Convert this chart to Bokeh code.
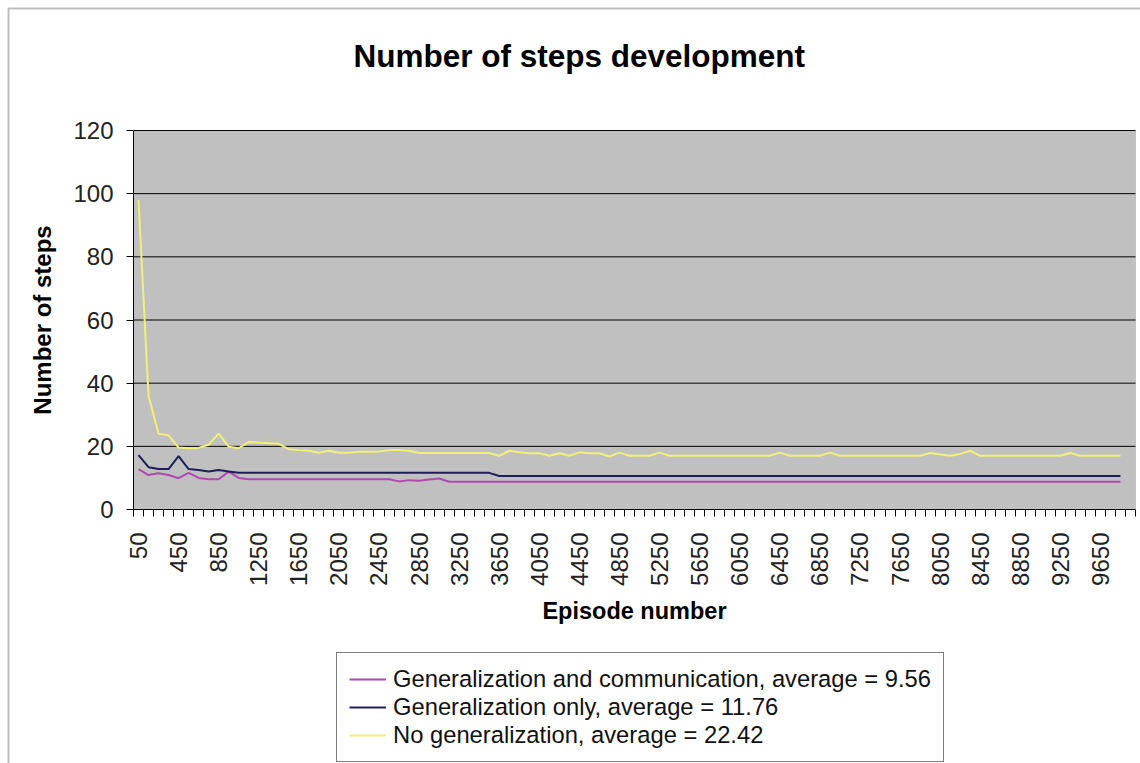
from math import pi

from bokeh.embed import file_html
from bokeh.models import (BoxAnnotation, FixedTicker, Label, Legend,
                          LegendItem, Range1d)
from bokeh.plotting import figure
from bokeh.resources import INLINE

# Episode buckets (centre of each block of 100 episodes)
episodes = [
    50, 150, 250, 350, 450, 550, 650, 750, 850, 950,
    1050, 1150, 1250, 1350, 1450, 1550, 1650, 1750, 1850, 1950,
    2050, 2150, 2250, 2350, 2450, 2550, 2650, 2750, 2850, 2950,
    3050, 3150, 3250, 3350, 3450, 3550, 3650, 3750, 3850, 3950,
    4050, 4150, 4250, 4350, 4450, 4550, 4650, 4750, 4850, 4950,
    5050, 5150, 5250, 5350, 5450, 5550, 5650, 5750, 5850, 5950,
    6050, 6150, 6250, 6350, 6450, 6550, 6650, 6750, 6850, 6950,
    7050, 7150, 7250, 7350, 7450, 7550, 7650, 7750, 7850, 7950,
    8050, 8150, 8250, 8350, 8450, 8550, 8650, 8750, 8850, 8950,
    9050, 9150, 9250, 9350, 9450, 9550, 9650, 9750, 9850,
]

gen_and_comm = [
    12.8, 10.9, 11.5, 10.9, 9.9, 11.6, 10.0, 9.6, 9.6, 12.0,
    10.0, 9.6, 9.6, 9.6, 9.6, 9.6, 9.6, 9.6, 9.6, 9.6,
    9.6, 9.6, 9.6, 9.6, 9.6, 9.6, 8.9, 9.3, 9.1, 9.5,
    9.8, 8.8, 8.8, 8.8, 8.8, 8.8, 8.8, 8.8, 8.8, 8.8,
    8.8, 8.8, 8.8, 8.8, 8.8, 8.8, 8.8, 8.8, 8.8, 8.8,
    8.8, 8.8, 8.8, 8.8, 8.8, 8.8, 8.8, 8.8, 8.8, 8.8,
    8.8, 8.8, 8.8, 8.8, 8.8, 8.8, 8.8, 8.8, 8.8, 8.8,
    8.8, 8.8, 8.8, 8.8, 8.8, 8.8, 8.8, 8.8, 8.8, 8.8,
    8.8, 8.8, 8.8, 8.8, 8.8, 8.8, 8.8, 8.8, 8.8, 8.8,
    8.8, 8.8, 8.8, 8.8, 8.8, 8.8, 8.8, 8.8, 8.8,
]

gen_only = [
    17.2, 13.4, 12.8, 12.8, 16.9, 12.8, 12.5, 12.0, 12.5, 12.0,
    11.6, 11.6, 11.6, 11.6, 11.6, 11.6, 11.6, 11.6, 11.6, 11.6,
    11.6, 11.6, 11.6, 11.6, 11.6, 11.6, 11.6, 11.6, 11.6, 11.6,
    11.6, 11.6, 11.6, 11.6, 11.6, 11.6, 10.6, 10.6, 10.6, 10.6,
    10.6, 10.6, 10.6, 10.6, 10.6, 10.6, 10.6, 10.6, 10.6, 10.6,
    10.6, 10.6, 10.6, 10.6, 10.6, 10.6, 10.6, 10.6, 10.6, 10.6,
    10.6, 10.6, 10.6, 10.6, 10.6, 10.6, 10.6, 10.6, 10.6, 10.6,
    10.6, 10.6, 10.6, 10.6, 10.6, 10.6, 10.6, 10.6, 10.6, 10.6,
    10.6, 10.6, 10.6, 10.6, 10.6, 10.6, 10.6, 10.6, 10.6, 10.6,
    10.6, 10.6, 10.6, 10.6, 10.6, 10.6, 10.6, 10.6, 10.6,
]

no_gen = [
    98.0, 36.0, 24.0, 23.5, 19.6, 19.4, 19.5, 20.5, 24.0, 19.9,
    19.4, 21.4, 21.2, 21.0, 20.8, 19.1, 18.8, 18.6, 18.0, 18.6,
    18.0, 18.0, 18.3, 18.3, 18.4, 18.8, 18.8, 18.6, 17.9, 17.9,
    17.9, 17.9, 17.9, 17.9, 17.9, 17.9, 17.0, 18.6, 18.1, 17.8,
    17.8, 17.0, 17.8, 17.0, 18.1, 17.8, 17.8, 16.8, 18.0, 17.0,
    17.0, 17.0, 18.0, 17.0, 17.0, 17.0, 17.0, 17.0, 17.0, 17.0,
    17.0, 17.0, 17.0, 17.0, 18.0, 17.0, 17.0, 17.0, 17.0, 18.0,
    17.0, 17.0, 17.0, 17.0, 17.0, 17.0, 17.0, 17.0, 17.0, 17.9,
    17.4, 17.0, 17.6, 18.6, 17.0, 17.0, 17.0, 17.0, 17.0, 17.0,
    17.0, 17.0, 17.0, 17.9, 17.0, 17.0, 17.0, 17.0, 17.0,
]

series_names = [
    "Generalization and communication, average = 9.56",
    "Generalization only, average = 11.76",
    "No generalization, average = 22.42",
]
series_colors = ["#B048B0", "#1E1E5A", "#F2F078"]

x_tick_labels = [
    "50", "450", "850", "1250", "1650", "2050", "2450", "2850", "3250",
    "3650", "4050", "4450", "4850", "5250", "5650", "6050", "6450", "6850",
    "7250", "7650", "8050", "8450", "8850", "9250", "9650",
]
x_boundaries = [
    0, 100, 200, 300, 400, 500, 600, 700, 800, 900, 1000, 1100, 1200, 1300,
    1400, 1500, 1600, 1700, 1800, 1900, 2000, 2100, 2200, 2300, 2400, 2500,
    2600, 2700, 2800, 2900, 3000, 3100, 3200, 3300, 3400, 3500, 3600, 3700,
    3800, 3900, 4000, 4100, 4200, 4300, 4400, 4500, 4600, 4700, 4800, 4900,
    5000, 5100, 5200, 5300, 5400, 5500, 5600, 5700, 5800, 5900, 6000, 6100,
    6200, 6300, 6400, 6500, 6600, 6700, 6800, 6900, 7000, 7100, 7200, 7300,
    7400, 7500, 7600, 7700, 7800, 7900, 8000, 8100, 8200, 8300, 8400, 8500,
    8600, 8700, 8800, 8900, 9000, 9100, 9200, 9300, 9400, 9500, 9600, 9700,
    9800, 9900, 10000,
]
y_ticks = [0, 20, 40, 60, 80, 100, 120]
x_min, x_max = 0, 10000
y_min, y_max = 0, 120

FONT = "Liberation Sans"
W, H = 1140, 763

# Plot area in page pixels: x 133..1135, y 130 (top) .. 509 (bottom)
PX_L, PX_R, PX_T, PX_B = 133, 1135, 130, 509
sx = (PX_R - PX_L) / (x_max - x_min)
sy = (PX_B - PX_T) / (y_max - y_min)

p = figure(
    width=W, height=H, output_backend="svg", toolbar_location=None,
    x_range=Range1d(x_min - PX_L / sx, x_max + (W - PX_R) / sx),
    y_range=Range1d(y_min - (H - PX_B) / sy, y_max + PX_T / sy),
    min_border=0, outline_line_color=None,
    background_fill_color="white", border_fill_color="white",
)
p.xgrid.visible = False
p.ygrid.visible = False

# grey plot area
p.add_layout(BoxAnnotation(left=x_min, right=x_max, bottom=y_min, top=y_max,
                           fill_color="#C0C0C0", fill_alpha=1.0,
                           line_color="#808080", line_width=1, level="underlay"))

# horizontal grid lines across the plot area
p.segment(x0=[x_min] * (len(y_ticks) - 1), x1=[x_max] * (len(y_ticks) - 1),
          y0=y_ticks[1:], y1=y_ticks[1:], line_color="black", line_width=1)

# x axis: tick marks on category boundaries, labels every fourth category
xa = p.xaxis[0]
xa.fixed_location = y_min
xa.bounds = (x_min, x_max)
xa.ticker = FixedTicker(ticks=[int(t) for t in x_tick_labels], minor_ticks=x_boundaries)
xa.major_label_overrides = {int(t): t for t in x_tick_labels}
xa.major_label_orientation = pi / 2
xa.major_tick_out = 0
xa.major_tick_in = 0
xa.minor_tick_out = 7
xa.minor_tick_in = 0
xa.minor_tick_line_color = "black"
xa.axis_line_color = "black"
xa.major_label_standoff = 16
xa.major_label_text_font = FONT
xa.major_label_text_font_size = "24px"
xa.major_label_text_color = "#222222"
xa.axis_label = "Episode number"
xa.axis_label_text_font = FONT
xa.axis_label_text_font_size = "23.5px"
xa.axis_label_text_font_style = "bold"
xa.axis_label_text_color = "black"
xa.axis_label_standoff = 9

ya = p.yaxis[0]
ya.fixed_location = x_min
ya.bounds = (y_min, y_max)
ya.ticker = FixedTicker(ticks=y_ticks)
ya.major_tick_out = 7
ya.major_tick_in = 0
ya.minor_tick_out = 0
ya.minor_tick_in = 0
ya.major_tick_line_color = "black"
ya.axis_line_color = "black"
ya.major_label_standoff = 13
ya.major_label_text_font = FONT
ya.major_label_text_font_size = "24px"
ya.major_label_text_color = "#222222"
ya.axis_label = "Number of steps"
ya.axis_label_text_font = FONT
ya.axis_label_text_font_size = "24px"
ya.axis_label_text_font_style = "bold"
ya.axis_label_text_color = "black"
ya.axis_label_standoff = 14

renderers = []
for ys, color in zip([gen_and_comm, gen_only, no_gen], series_colors):
    renderers.append(p.line(episodes, ys, line_color=color, line_width=2))

# chart border
p.add_layout(BoxAnnotation(left=8, right=W + 20, top=8, bottom=H + 20,
                           left_units="canvas", right_units="canvas",
                           top_units="canvas", bottom_units="canvas",
                           fill_alpha=0, line_color="#202020", line_width=2))

p.add_layout(Label(x=353, y=H - 55, x_units="screen", y_units="screen",
                   text="Number of steps development", text_align="left",
                   text_baseline="alphabetic", text_font=FONT,
                   text_font_size="31.5px", text_font_style="bold", text_color="black"))

legend = Legend(
    items=[LegendItem(label=n, renderers=[r]) for n, r in zip(series_names, renderers)],
    location=(336, 1),
    orientation="vertical", padding=12, spacing=0, margin=0,
    glyph_width=37, glyph_height=28, label_height=28, label_standoff=7,
    label_text_font=FONT, label_text_font_size="23.75px", label_text_color="#111111",
    border_line_color="black", border_line_width=1.2,
    background_fill_color="white", background_fill_alpha=1.0,
)
p.add_layout(legend, "center")

open("out.html", "w").write(file_html(p, INLINE))
